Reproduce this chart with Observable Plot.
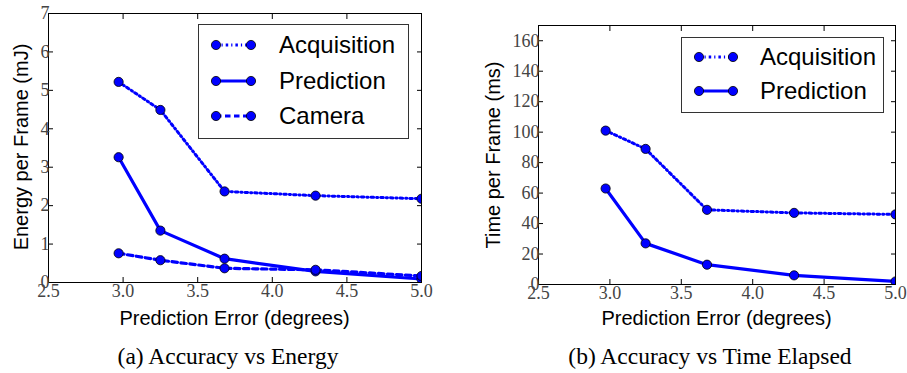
<!DOCTYPE html>
<html>
<head>
<meta charset="utf-8">
<script src="https://cdn.jsdelivr.net/npm/d3@7"></script>
<script src="https://cdn.jsdelivr.net/npm/@observablehq/plot@0.6"></script>
<style>
  html, body { margin: 0; padding: 0; background: #fff; }
  #root { position: relative; width: 907px; height: 373px; overflow: hidden; background: #fff; }
  .panel { position: absolute; top: 0; }
  .panel svg { overflow: visible; }
  .legend { position: absolute; border: 1px solid #333; background: #fff; box-sizing: border-box; }
  .legend .entry { position: absolute; left: 0; height: 0; }
  .legend .entry svg { position: absolute; overflow: visible; }
  .legend .entry span { position: absolute; font-family: "Liberation Sans", Arial, sans-serif; font-size: 24px; line-height: 24px; top: -12px; white-space: nowrap; color: #000; }
  .caption { position: absolute; font-family: "Liberation Serif", "Times New Roman", serif; font-size: 23.5px; color: #000; white-space: nowrap; transform: translate(-50%, -50%); }
  .axtitle { position: absolute; font-family: "Liberation Sans", Arial, sans-serif; font-size: 20px; line-height: 20px; color: #000; white-space: nowrap; }
</style>
</head>
<body>
<div id="root"></div>
<script>
// ---- data ----
const predictionError = [2.97, 3.25, 3.68, 4.29, 5.0];
const energyAcquisition = [5.22, 4.49, 2.37, 2.26, 2.18];
const energyPrediction = [3.26, 1.35, 0.62, 0.29, 0.09];
const energyCamera = [0.76, 0.58, 0.37, 0.33, 0.17];
const timeAcquisition = [101, 89, 49, 47, 46];
const timePrediction = [63, 27, 13, 6, 2];
const xTicks = [2.5, 3.0, 3.5, 4.0, 4.5, 5.0];
const energyTicks = [0, 1, 2, 3, 4, 5, 6, 7];
const timeTicks = [0, 20, 40, 60, 80, 100, 120, 140, 160];
const seriesNames = ["Acquisition", "Prediction", "Camera"];
const captions = ["(a) Accuracy vs Energy", "(b) Accuracy vs Time Elapsed"];
const xLabel = "Prediction Error (degrees)";
const yLabels = ["Energy per Frame (mJ)", "Time per Frame (ms)"];

// ---- styles ----
const BLUE = "#0000ff";
const styles = {
  Acquisition: {strokeWidth: 3, strokeDasharray: "2.5,3,1.2,3"},
  Prediction: {strokeWidth: 3.2, strokeDasharray: null},
  Camera: {strokeWidth: 3.2, strokeDasharray: "5.5,3.5"}
};
const TICK_FONT = "Liberation Serif, serif";
const TICK_SIZE = 18;

function table(names, arrays) {
  const rows = [];
  names.forEach((name, i) => arrays[i].forEach((v, j) => rows.push({series: name, x: predictionError[j], y: v})));
  return rows;
}

const energyData = table(seriesNames, [energyAcquisition, energyPrediction, energyCamera]);
const timeData = table(seriesNames.slice(0, 2), [timeAcquisition, timePrediction]);

function panel({data, names, yDomain, yTicks, width, height, margins}) {
  const marks = [];
  for (const name of names) {
    const d = data.filter(r => r.series === name);
    marks.push(Plot.line(d, {x: "x", y: "y", stroke: BLUE, clip: true, strokeLinejoin: "round", ...styles[name]}));
    marks.push(Plot.dot(d, {x: "x", y: "y", r: 4.6, fill: BLUE, stroke: "#000", strokeWidth: 0.8, clip: true}));
  }
  const chart = Plot.plot({
    width, height,
    marginLeft: margins[0], marginRight: margins[1], marginTop: margins[2], marginBottom: margins[3],
    style: {background: "transparent", color: "#000", overflow: "visible"},
    x: {domain: [2.5, 5.0]},
    y: {domain: yDomain},
    marks: [
      ...marks,
      Plot.frame({stroke: "#000", strokeWidth: 1}),
      Plot.axisX({ticks: xTicks, tickSize: -5, tickPadding: 7, tickFormat: d3.format(".1f"), label: null, stroke: "#000", fill: "#444", fontFamily: TICK_FONT, fontSize: TICK_SIZE}),
      Plot.axisX({anchor: "top", ticks: xTicks, tickSize: -5, fill: "none", label: null, stroke: "#000"}),
      Plot.axisY({ticks: yTicks, tickSize: -5, tickPadding: 4, tickFormat: d3.format("d"), label: null, stroke: "#000", fill: "#444", fontFamily: TICK_FONT, fontSize: TICK_SIZE}),
      Plot.axisY({anchor: "right", ticks: yTicks, tickSize: -5, fill: "none", label: null, stroke: "#000"})
    ]
  });
  // force the serif tick-label font on every text element
  d3.select(chart).attr("font-family", TICK_FONT).attr("font-size", TICK_SIZE);
  d3.select(chart).selectAll("g").filter(function () { return this.querySelector("text"); })
    .attr("font-family", TICK_FONT).attr("font-size", TICK_SIZE);
  d3.select(chart).selectAll("text")
    .attr("font-family", TICK_FONT).attr("font-size", TICK_SIZE)
    .style("font-family", TICK_FONT).style("font-size", TICK_SIZE + "px");
  return chart;
}

const root = document.getElementById("root");

function addPanel(left, chart) {
  const div = document.createElement("div");
  div.className = "panel";
  div.style.left = left + "px";
  div.appendChild(chart);
  root.appendChild(div);
}

addPanel(0, panel({data: energyData, names: seriesNames, yDomain: [0, 7], yTicks: energyTicks,
  width: 460, height: 310, margins: [48, 39, 13, 28]}));
addPanel(460, panel({data: timeData, names: seriesNames.slice(0, 2), yDomain: [0, 170], yTicks: timeTicks,
  width: 447, height: 310, margins: [78, 12, 25, 26]}));

function addTitle(text, cx, cy, rotate) {
  const d = document.createElement("div");
  d.className = "axtitle";
  d.textContent = text;
  d.style.left = cx + "px";
  d.style.top = cy + "px";
  d.style.transform = "translate(-50%, -50%)" + (rotate ? " rotate(-90deg)" : "");
  root.appendChild(d);
}
addTitle(xLabel, 234.5, 318, false);
addTitle(xLabel, 716.5, 318, false);
addTitle(yLabels[0], 21, 147, true);
addTitle(yLabels[1], 493, 154.5, true);

function addLegend({left, top, width, height, names, rowY, markerX, textX}) {
  const box = document.createElement("div");
  box.className = "legend";
  Object.assign(box.style, {left: left + "px", top: top + "px", width: width + "px", height: height + "px"});
  names.forEach((name, i) => {
    const e = document.createElement("div");
    e.className = "entry";
    e.style.top = (rowY[i] - top) + "px";
    const s = styles[name];
    const x0 = markerX[0] - left, x1 = markerX[1] - left;
    e.innerHTML = `<svg width="1" height="1" style="left:0;top:0">
      <line x1="${x0}" y1="0" x2="${x1}" y2="0" stroke="${BLUE}" stroke-width="${s.strokeWidth}" ${s.strokeDasharray ? `stroke-dasharray="${s.strokeDasharray}"` : ""}/>
      <circle cx="${x0}" cy="0" r="4.6" fill="${BLUE}" stroke="#000" stroke-width="0.8"/>
      <circle cx="${x1}" cy="0" r="4.6" fill="${BLUE}" stroke="#000" stroke-width="0.8"/>
    </svg><span style="left:${textX - left}px">${name}</span>`;
    box.appendChild(e);
  });
  root.appendChild(box);
}

addLegend({left: 198, top: 24, width: 211, height: 115, names: seriesNames, rowY: [44, 80, 115], markerX: [215, 250], textX: 278});
addLegend({left: 681, top: 37, width: 203, height: 76, names: seriesNames.slice(0, 2), rowY: [56, 90], markerX: [698, 732], textX: 759});

function addCaption(text, cx, cy) {
  const d = document.createElement("div");
  d.className = "caption";
  d.textContent = text;
  d.style.left = cx + "px";
  d.style.top = cy + "px";
  root.appendChild(d);
}
addCaption(captions[0], 228, 356);
addCaption(captions[1], 710, 356);
</script>
</body>
</html>
